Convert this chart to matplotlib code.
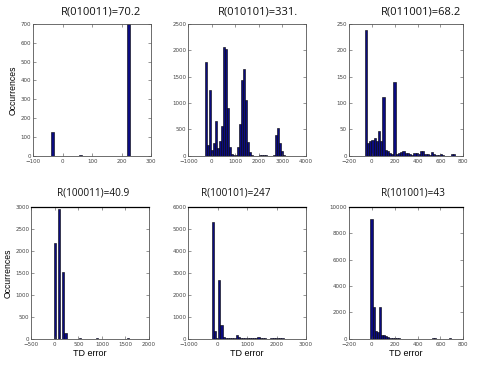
import matplotlib
matplotlib.use("Agg")
import matplotlib.pyplot as plt
import numpy as np

# ---- DATA (bin centres and counts) ----
titles = ["R(010011)=70.2", "R(010101)=331.", "R(011001)=68.2",
          "R(100011)=40.9", "R(100101)=247", "R(101001)=43"]

p1_x = [-34, 62, 223]
p1_y = [128, 4, 700]

p2_start, p2_step = -242, 85
p2_y = [1785, 203, 1253, 108, 234, 658, 140, 280, 563, 2057, 2025, 899,
        170, 40, 15, 8, 170, 600, 1440, 1640, 1060, 260, 70, 10, 0, 0, 0,
        5, 15, 10, 5, 0, 0, 0, 5, 390, 530, 250, 80, 10]

p3_start, p3_step = -52, 19.3
p3_y = [238, 25, 27, 29, 33, 27, 47, 28, 111, 11, 8, 6, 4, 140, 3, 5, 7, 8,
        6, 6, 3, 2, 5, 5, 3, 8, 8, 4, 4, 2, 7, 3, 2, 2, 3, 1, 0, 0, 0, 3, 3]

p4_x = [10, 95, 175, 225, 530, 900, 1550]
p4_y = [2180, 2950, 1510, 140, 8, 8, 6]

p5_start, p5_step = -168, 74
p5_y = [5320, 330, 50, 2660, 640, 80, 40, 30, 15, 10, 30, 170, 60, 40, 30,
        20, 15, 15, 15, 20, 40, 70, 30, 15, 10, 8, 8, 10, 12, 15, 15, 12,
        10, 8, 8, 6]

p6_start, p6_step = -3, 18.5
p6_y = [9110, 2400, 560, 480, 2380, 250, 280, 180, 100, 70, 50, 40, 30, 20,
        15, 15, 10, 10, 10, 10, 10, 8, 8, 8, 8, 10, 15, 10, 8, 20, 25, 10,
        10, 15, 10, 8, 10, 20]

xlims = [(-100, 300), (-1000, 4000), (-200, 800),
         (-500, 2000), (-1000, 3000), (-200, 800)]
ylims = [(0, 700), (0, 2500), (0, 250), (0, 3000), (0, 6000), (0, 10000)]
xticks = [np.arange(-100, 301, 100), np.arange(-1000, 4001, 1000),
          np.arange(-200, 801, 200), np.arange(-500, 2001, 500),
          np.arange(-1000, 3001, 1000), np.arange(-200, 801, 200)]
yticks = [np.arange(0, 701, 100), np.arange(0, 2501, 500),
          np.arange(0, 251, 50), np.arange(0, 3001, 500),
          np.arange(0, 6001, 1000), np.arange(0, 10001, 2000)]


def centres(start, step, n):
    return [start + i * step for i in range(n)]


series = [
    (p1_x, p1_y, 10),
    (centres(p2_start, p2_step, len(p2_y)), p2_y, p2_step),
    (centres(p3_start, p3_step, len(p3_y)), p3_y, p3_step),
    (p4_x, p4_y, 50),
    (centres(p5_start, p5_step, len(p5_y)), p5_y, p5_step),
    (centres(p6_start, p6_step, len(p6_y)), p6_y, p6_step),
]

# axes boxes in pixels (left, top, right, bottom) on a 491x368 canvas
W, H = 491, 368
boxes = [(33, 24, 151.3, 155.7), (188.3, 24, 306, 155.7), (349, 24, 463.3, 155.7),
         (31.3, 207, 149, 338.7), (188.3, 207, 306, 338.7), (349, 207, 463.3, 338.7)]
title_pos = [(101, 12), (258, 12), (421, 12), (93, 193), (236, 193), (413, 193)]
title_size = [8, 8, 8, 7.2, 7.2, 7.2]

fig = plt.figure(figsize=(W / 100, H / 100), dpi=100)
fig.patch.set_facecolor("white")

for i in range(6):
    l, t, r, b = boxes[i]
    ax = fig.add_axes([l / W, 1 - b / H, (r - l) / W, (b - t) / H])
    x, y, w = series[i]
    ax.bar(x, y, width=w, color="#0b0b80", edgecolor="black",
           linewidth=0.4, align="center")

    ax.set_xlim(*xlims[i])
    ax.set_ylim(*ylims[i])
    ax.set_xticks(xticks[i])
    ax.set_yticks(yticks[i])

    ax.tick_params(direction="in", length=2, width=0.4,
                   labelsize=4, colors="#444444",
                   top=True, right=True)
    ax.tick_params(axis="x", pad=2.2)
    ax.tick_params(axis="y", pad=1.5)
    for s in ax.spines.values():
        s.set_color("#555555")
        s.set_linewidth(0.6)
    if i >= 3:
        ax.spines["top"].set_color("black")
        ax.spines["top"].set_linewidth(0.9)

    # TITLE (placed like the pasted labels of the original)
    tx, ty = title_pos[i]
    fig.text(tx / W, 1 - ty / H, titles[i], ha="center", va="center",
             fontsize=title_size[i], family="Open Sans", color="#111111")

    if i in (0, 3):
        ax.set_ylabel("Occurrences", fontsize=6.2, labelpad=2,
                      family="Liberation Sans")
    if i >= 3:
        ax.set_xlabel("TD error", fontsize=6.5, labelpad=1.5,
                      family="Liberation Sans")

plt.savefig("out.png", dpi=100, facecolor=fig.get_facecolor())
plt.close()
